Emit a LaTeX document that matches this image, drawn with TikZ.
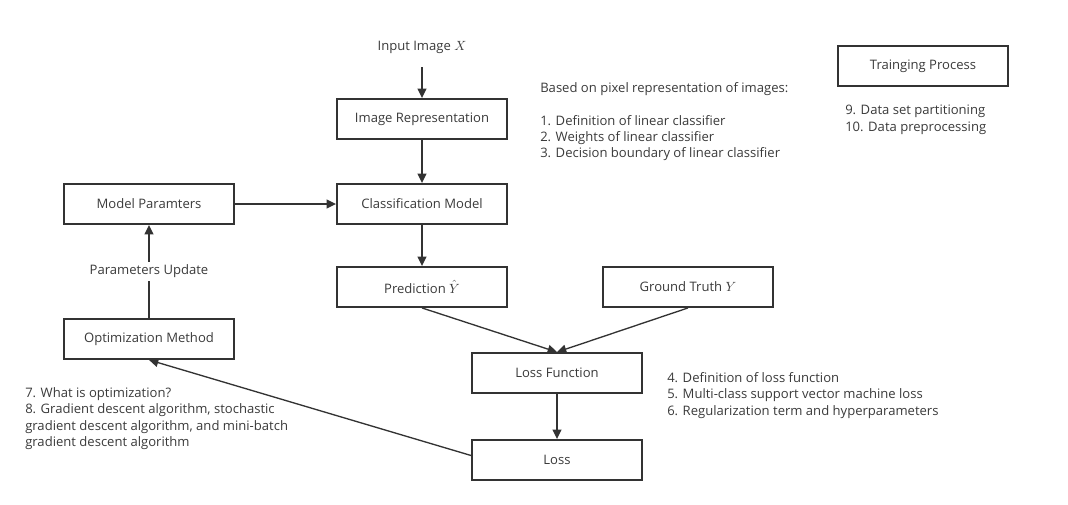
\documentclass[tikz,border=0pt]{standalone}
\usepackage{amsmath}
\usepackage{fontspec}
\setmainfont{Open Sans}
\usepackage{tikz}
\usetikzlibrary{positioning,arrows.meta}
\definecolor{linegray}{HTML}{333333}
\definecolor{textgray}{HTML}{3A3A3A}
\begin{document}
\begin{tikzpicture}[x=0.75pt,y=-0.75pt,
  box/.style={draw=linegray,line width=1.4pt,minimum width=127.5pt,minimum height=30pt,inner sep=0pt,font=\fontsize{9.8}{11}\selectfont,text=textgray},
  note/.style={align=left,anchor=north west,inner sep=0pt,font=\fontsize{9.8}{12.3}\selectfont,text=textgray},
  flow/.style={draw=linegray,line width=1pt,-{Triangle[length=7pt,width=6.5pt]}}]
      \useasboundingbox (0,0) rectangle (1068,504);
      \node[inner sep=0pt,font=\fontsize{9.8}{11}\selectfont,text=textgray](input) at (422,47){Input Image $X$};
      \node[box](imgrep) at (422,119){Image Representation};
      \node[box](clsmodel) at (422,204){Classification Model};
      \node[box](params) at (149,204){Model Paramters};
      \node[box](pred) at (422,287){Prediction $\hat{Y}$};
      \node[box](truth) at (688,287){Ground Truth $Y$};
      \node[box](optim) at (149,339){Optimization Method};
      \node[box](lossfn) at (557,373){Loss Function};
      \node[box](loss) at (557,460){Loss};
      \node[box](train) at (923,66){Trainging Process};
      % notes
      \node[note](notea) at (540,82){Based on pixel representation of images:\\[12.3pt]
        1. Definition of linear classifier\\
        2. Weights of linear classifier\\
        3. Decision boundary of linear classifier};
      \node[note](noteb) at (845,105){9. Data set partitioning\\10. Data preprocessing};
      \node[note](notec) at (667,372){4. Definition of loss function\\5. Multi-class support vector machine loss\\6. Regularization term and hyperparameters};
      \node[note](noted) at (25,387){7. What is optimization?\\8. Gradient descent algorithm, stochastic\\gradient descent algorithm, and mini-batch\\gradient descent algorithm};
      % arrows
      \coordinate (inputend) at (422,67);
      \draw[flow] (inputend) -- (imgrep);
      \draw[flow] (imgrep) -- (clsmodel);
      \draw[flow] (params) -- (clsmodel);
      \draw[flow] (clsmodel) -- (pred);
      \draw[flow] (pred.south) -- (lossfn.north);
      \draw[flow] (truth.south) -- (lossfn.north);
      \draw[flow] (lossfn) -- (loss);
      \draw[flow] (loss.west) ++(0,-4.5) -- (optim.south);
      \draw[flow] (optim) -- node[fill=white,inner sep=2pt,font=\fontsize{9.8}{11}\selectfont,text=textgray](update){Parameters Update} (params);
\end{tikzpicture}
\end{document}
